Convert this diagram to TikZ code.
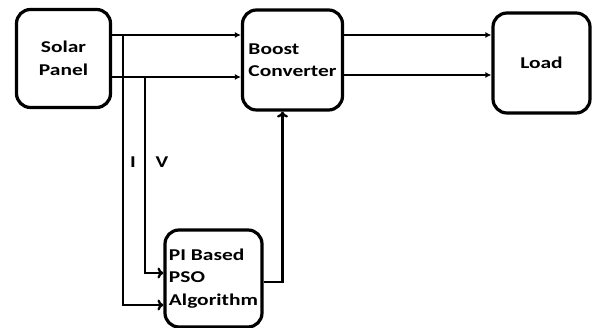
\documentclass[tikz,border=0pt]{standalone}
\usepackage{fontspec}
\setmainfont{Carlito}[FakeStretch=1.3]
\usetikzlibrary{arrows.meta}
\tikzset{
  blockbox/.style={draw, line width=3.2pt, rounded corners=14pt, inner sep=0pt,
    font=\bfseries\fontsize{16.5}{22.5}\selectfont},
  link/.style={line width=2.8pt},
  fedarrow/.style={link, -{Latex[length=6pt,width=6pt]}},
  sensearrow/.style={link, -{To[length=6pt,width=11pt,line width=2.4pt]}}
}

\begin{document}
\begin{tikzpicture}[x=1pt,y=1pt]
  \useasboundingbox (0,0) rectangle (594,328);
  \node [blockbox, minimum width=94pt, minimum height=98pt, align=center] (solar) at (63.5,269.5) {Solar\\Panel};
  \node [blockbox, minimum width=100pt, minimum height=100pt, align=left] (boost) at (292.5,268) {Boost\\Converter};
  \node [blockbox, minimum width=97pt, minimum height=100pt] (load) at (541.5,265) {Load};
  \node [blockbox, minimum width=97pt, minimum height=97pt, align=left] (pi) at (213.5,49.5) {PI Based\\PSO\\Algorithm};

  \coordinate (itap) at (123,293);
  \coordinate (vtap) at (145,251);
  \node [font=\bfseries\fontsize{16.5}{22}\selectfont] (ilabel) at (133,166) {I};
  \node [font=\bfseries\fontsize{16.5}{22}\selectfont] (vlabel) at (162,166) {V};

  % solar panel to converter
  \draw [fedarrow] ([yshift=23.5pt]solar.east) -- ([yshift=23.5pt]solar.east -| boost.west);
  \draw [fedarrow] ([yshift=-18.5pt]solar.east) -- ([yshift=-18.5pt]solar.east -| boost.west);
  % converter to load
  \draw [fedarrow] ([yshift=25pt]boost.east) -- ([yshift=25pt]boost.east -| load.west);
  \draw [fedarrow] ([yshift=-15pt]boost.east) -- ([yshift=-15pt]boost.east -| load.west);
  % measured I and V
  \draw [sensearrow] (itap) |- ([yshift=-26.5pt]pi.west);
  \draw [sensearrow] (vtap) |- ([yshift=5.5pt]pi.west);
  % duty signal back to converter
  \draw [sensearrow] ([yshift=-3.5pt]pi.east) -| ([xshift=-10pt]boost.south);
\end{tikzpicture}
\end{document}
